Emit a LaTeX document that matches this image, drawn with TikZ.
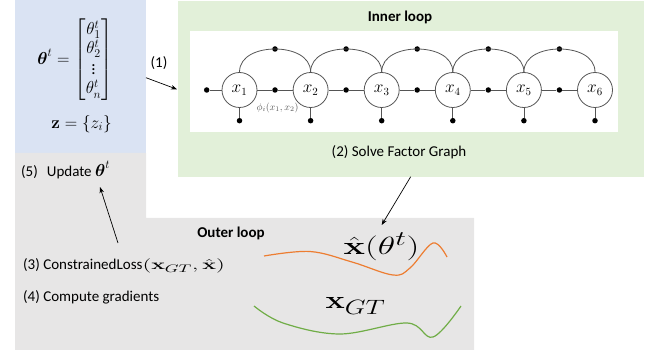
\documentclass[tikz,border=0pt]{standalone}
\usepackage{amsmath,amssymb}
\usepackage[no-math]{fontspec}
\setmainfont{Carlito}
\usetikzlibrary{arrows.meta}
\definecolor{bluebg}{HTML}{DAE3F3}
\definecolor{greenbg}{HTML}{E2F0D9}
\definecolor{graybg}{HTML}{E7E6E6}
\definecolor{orangeline}{HTML}{ED7D31}
\definecolor{greenline}{HTML}{70AD47}
\definecolor{fgline}{HTML}{555555}
\tikzset{
  varnode/.style={circle, draw=fgline, line width=0.8pt, fill=white, minimum size=35pt, inner sep=0pt, font=\fontsize{16}{18}\selectfont},
  factordot/.style={circle, fill=black, minimum size=5.5pt, inner sep=0pt},
  edge/.style={draw=fgline, line width=0.8pt},
  flow/.style={draw=black, line width=0.7pt, -{Stealth[length=6pt,width=4.5pt]}},
  lbl/.style={font=\fontsize{15}{18}\selectfont, inner sep=0pt},
  title/.style={font=\fontsize{15}{18}\selectfont\bfseries, inner sep=0pt},
  curve/.style={line width=1.2pt},
}
\begin{document}
\begin{tikzpicture}[x=1pt,y=-1pt]
\useasboundingbox (0,0) rectangle (649,350);
% backgrounds
\fill[bluebg] (15,0) rectangle (146,153);
\fill[graybg] (15,153) -- (146,153) -- (146,218) -- (474,218) -- (474,350) -- (15,350) -- cycle;
\fill[greenbg] (178,1) rectangle (644,177);
\fill[white] (190,31) rectangle (618,132);

% left panel math
\node[inner sep=0pt, font=\fontsize{17}{20}\selectfont] (theta) at (75,60)
  {\def\arraystretch{0.9}$\boldsymbol{\theta}^t = \begin{bmatrix}\theta_1^t\\ \theta_2^t\\ \vdots\\ \theta_n^t\end{bmatrix}$};
\node[inner sep=0pt, font=\fontsize{17}{20}\selectfont] (zset) at (81.5,124) {$\mathbf{z} = \{z_i\}$};

% titles and labels
\node[title] (inner) at (400,17) {Inner loop};
\node[lbl] (solve) at (399,152) {(2) Solve Factor Graph};
\node[lbl] (one) at (159,63) {(1)};
\node[lbl, anchor=west] (update) at (21,170) {(5)\hspace{9pt}Update \raisebox{0pt}{\fontsize{17}{20}\selectfont$\boldsymbol{\theta}^t$}};
\node[title] (outer) at (231,233) {Outer loop};
\node[lbl, anchor=west] (loss) at (23,266) {(3) ConstrainedLoss\scalebox{1.6}[1]{$(\mathbf{x}_{GT},\hat{\mathbf{x}})$}};
\node[lbl, anchor=west] (grad) at (23,297) {(4) Compute gradients};

% factor graph
\foreach \i in {1,...,6} {
  \node[varnode] (x\i) at ({239.5+71.1*(\i-1)},90) {$x_{\i}$};
  \node[factordot] (b\i) at ({239.5+71.1*(\i-1)},120.7) {};
  \draw[edge] (x\i.south) -- (b\i);
}
\node[factordot] (f0) at (206.7,90) {};
\draw[edge] (f0) -- (x1);
\foreach \i [evaluate=\i as \j using int(\i+1)] in {1,...,5} {
  \node[factordot] (m\i) at ({275+71.1*(\i-1)},90) {};
  \node[factordot] (t\i) at ({275+71.1*(\i-1)},49) {};
  \draw[edge] (x\i) -- (m\i) -- (x\j);
  \draw[edge] (x\i.north) to[out=90,in=180] (t\i.center) to[out=0,in=90] (x\j.north);
}
\node[inner sep=0pt, text=fgline, font=\fontsize{10}{12}\selectfont] (phi) at (277.5,108) {$\phi_i(x_1,x_2)$};

% curves
\draw[curve, orangeline] plot[smooth, tension=0.6] coordinates {(264,256) (310,251.5) (352,262) (393,275) (410,268) (433,243) (447,257)};
\draw[curve, greenline] plot[smooth, tension=0.6] coordinates {(254,306) (283,323) (340,334) (407,323) (433,337) (461,306)};
\node[inner sep=0pt, font=\fontsize{31}{34}\selectfont] (xhat) at (381.5,247) {\scalebox{1.45}[1]{$\hat{\mathbf{x}}(\theta^t)$}};
\node[inner sep=0pt, font=\fontsize{32}{36}\selectfont] (xgt) at (355.5,306) {\scalebox{1.3}[1]{$\mathbf{x}_{GT}$}};

% arrows
\coordinate (a1s) at (146,77.7);
\coordinate (a1e) at (177,89.3);
\draw[flow] (a1s) -- (a1e);
\coordinate (a2s) at (410.7,176.7);
\coordinate (a2e) at (381.7,225);
\draw[flow] (a2s) -- (a2e);
\coordinate (a3s) at (118,243);
\coordinate (a3e) at (100,187);
\draw[flow] (a3s) -- (a3e);
\end{tikzpicture}
\end{document}
